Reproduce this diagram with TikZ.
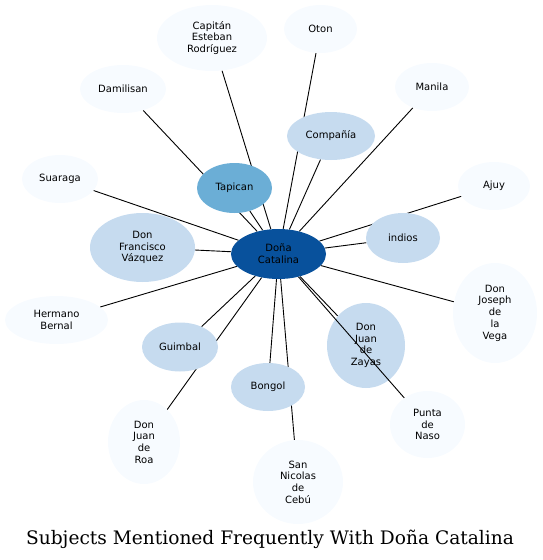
\documentclass[tikz,border=0pt]{standalone}
\usepackage{fontspec}
\usetikzlibrary{shapes.geometric}
\newfontfamily\nodefont{DejaVu Sans}
\newfontfamily\titlefont{DejaVu Serif}
\definecolor{bl1}{HTML}{F7FBFF}
\definecolor{bl3}{HTML}{C6DBEF}
\definecolor{bl5}{HTML}{6BAED6}
\definecolor{bl8}{HTML}{08519C}
\pgfdeclarelayer{bg}
\pgfsetlayers{bg,main}
\tikzset{
  ent/.style={ellipse, inner sep=0pt, align=center, text=black,
    font=\nodefont\fontsize{10}{11.7}\selectfont},
  pale/.style={ent, fill=bl1},
  mid/.style={ent, fill=bl3},
  edge/.style={draw=black, line width=0.9pt}
}
\begin{document}
\begin{tikzpicture}[x=1pt,y=-1pt]
\useasboundingbox (0,0) rectangle (542,560);
\node[ent, fill=bl8, minimum width=95pt, minimum height=50pt] (c) at (278.5,254) {Doña\\Catalina};
\node[pale, minimum width=110pt, minimum height=66pt] (cap) at (212,38) {Capitán\\Esteban\\Rodríguez};
\node[pale, minimum width=73pt, minimum height=48pt] (oton) at (320.5,29) {Oton};
\node[pale, minimum width=86pt, minimum height=48pt] (dam) at (123,89) {Damilisan};
\node[pale, minimum width=74pt, minimum height=48pt] (man) at (432,87) {Manila};
\node[mid, minimum width=88pt, minimum height=48pt] (comp) at (331,136) {Compañía};
\node[ent, fill=bl5, minimum width=75pt, minimum height=50pt] (tap) at (234.5,188) {Tapican};
\node[pale, minimum width=76pt, minimum height=48pt] (sua) at (60,179) {Suaraga};
\node[pale, minimum width=72pt, minimum height=48pt] (ajuy) at (494,186) {Ajuy};
\node[mid, minimum width=105pt, minimum height=69pt] (fran) at (142.5,247.5) {Don\\Francisco\\Vázquez};
\node[mid, minimum width=74pt, minimum height=50pt] (ind) at (403,238) {indios};
\node[pale, minimum width=103pt, minimum height=48pt] (her) at (56.5,320) {Hermano\\Bernal};
\node[pale, minimum width=84pt, minimum height=100pt] (jos) at (495,313) {Don\\Joseph\\de\\la\\Vega};
\node[mid, minimum width=76pt, minimum height=49pt] (gui) at (180,347) {Guimbal};
\node[mid, minimum width=78pt, minimum height=85pt] (zay) at (366,345.5) {Don\\Juan\\de\\Zayas};
\node[mid, minimum width=74pt, minimum height=48pt] (bon) at (268,387) {Bongol};
\node[pale, minimum width=75pt, minimum height=67pt] (pun) at (427.5,424.5) {Punta\\de\\Naso};
\node[pale, minimum width=72pt, minimum height=84pt] (roa) at (144,442) {Don\\Juan\\de\\Roa};
\node[pale, minimum width=90pt, minimum height=84pt] (san) at (298,482) {San\\Nicolas\\de\\Cebú};
\node[font=\titlefont\fontsize{18.6}{22}\selectfont, inner sep=0pt] (title) at (270,539) {Subjects Mentioned Frequently With Doña Catalina};
\begin{pgfonlayer}{bg}
\foreach \n in {cap,oton,dam,man,comp,tap,sua,ajuy,fran,ind,her,jos,gui,zay,bon,roa,san}
  \draw[edge] (c) -- (\n);
\end{pgfonlayer}
\draw[edge] (c) -- (pun);
\end{tikzpicture}
\end{document}
